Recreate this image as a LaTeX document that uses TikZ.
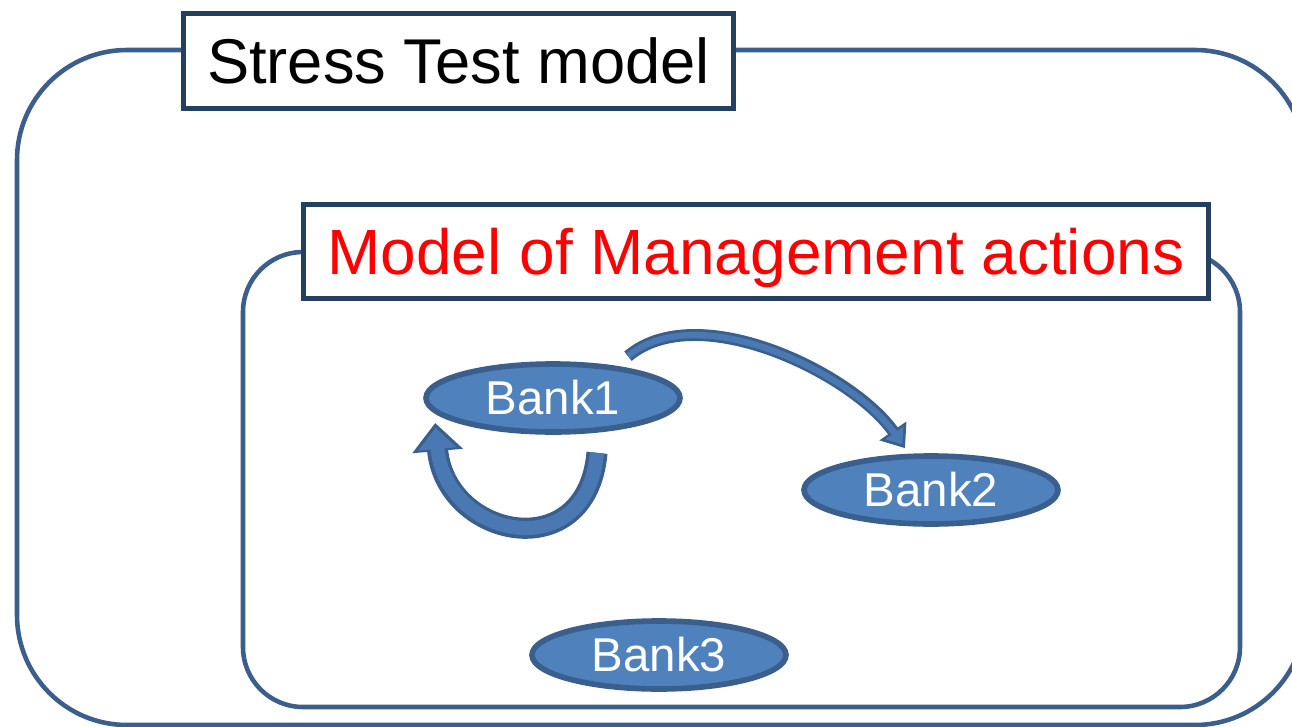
\documentclass[tikz,border=0pt]{standalone}
\usepackage{fontspec}
\setmainfont{Liberation Sans}
\usetikzlibrary{shapes.geometric,arrows.meta}
\definecolor{bankfill}{HTML}{4F81BD}
\definecolor{bankline}{HTML}{3A5F8D}
\definecolor{boxline}{HTML}{243F60}
\definecolor{frameline}{HTML}{3B5E8C}
\definecolor{arrowfill}{HTML}{4A78B2}
\tikzset{
  bank/.style={ellipse, draw=bankline, fill=bankfill, line width=1.6pt,
    minimum width=2.54cm, minimum height=0.68cm, inner sep=0pt,
    text=white, font=\fontsize{13.5}{15}\selectfont},
  tagbox/.style={draw=boxline, fill=white, line width=1.4pt, inner sep=0pt,
    font=\fontsize{18}{21}\selectfont},
  frame/.style={draw=frameline, line width=1.3pt},
  arrowrim/.style={draw=bankline, line cap=butt},
  arrowcore/.style={draw=arrowfill, line cap=butt},
}
\begin{document}
\begin{tikzpicture}
  \useasboundingbox (0,0) rectangle (12.92,-7.27);
  % frames
  \draw[frame, rounded corners=1.1cm] (0.17,-0.50) rectangle (13.05,-7.25);
  \draw[frame, rounded corners=0.6cm] (2.43,-2.52) rectangle (12.40,-7.07);

  \node[tagbox, minimum width=5.50cm, minimum height=0.95cm] (stm) at (4.585,-0.61) {Stress Test model};
  \node[tagbox, minimum width=9.05cm, minimum height=0.94cm, text=red, text depth=0pt,
    font=\fontsize{18.2}{21}\selectfont] (mma) at (7.56,-2.515) {Model of Management actions};

  \node[bank] (b1) at (5.53,-3.98) {Bank1};
  \node[bank] (b2) at (9.31,-4.90) {Bank2};
  \node[bank] (b3) at (6.59,-6.55) {Bank3};

  % Bank1 -> Bank2
  \draw[arrowrim, line width=3.4pt, -{Triangle[width=9pt,length=6pt]}]
    ([xshift=0.75cm,yshift=0.05cm]b1.north) to[out=40,in=125,looseness=0.8] ([xshift=-0.26cm,yshift=0.05cm]b2.north);
  \draw[arrowcore, line width=1.8pt, shorten >=1.3pt, -{Triangle[width=6pt,length=4pt]}]
    ([xshift=0.75cm,yshift=0.05cm]b1.north) to[out=40,in=125,looseness=0.8] ([xshift=-0.26cm,yshift=0.05cm]b2.north);

  % Bank1 -> Bank1
  \draw[arrowrim, line width=6pt, -{Triangle[width=14pt,length=8pt]}]
    ([xshift=0.44cm,yshift=-0.18cm]b1.south) to[out=-95,in=-85,looseness=1.8] ([xshift=0.12cm,yshift=-0.25cm]b1.west);
  \draw[arrowcore, line width=4pt, shorten >=1.4pt, -{Triangle[width=10.5pt,length=6pt]}]
    ([xshift=0.44cm,yshift=-0.18cm]b1.south) to[out=-95,in=-85,looseness=1.8] ([xshift=0.12cm,yshift=-0.25cm]b1.west);
\end{tikzpicture}
\end{document}
